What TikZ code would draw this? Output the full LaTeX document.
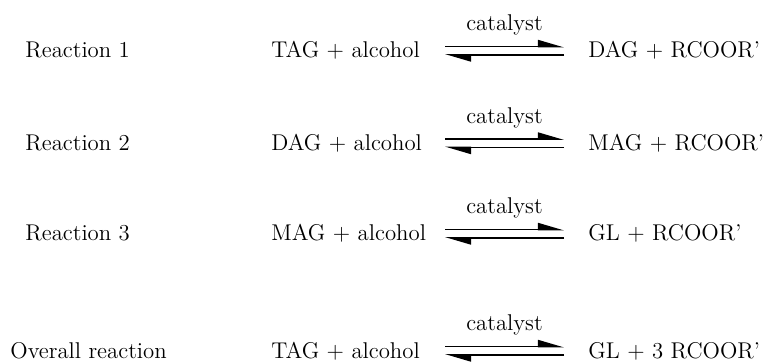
\documentclass[tikz,border=0pt]{standalone}
\usepackage{tikz}
\usetikzlibrary{arrows.meta}
\tikzstyle{txt}=[anchor=base west,inner sep=0pt,font=\fontsize{11.4}{14}\selectfont]
\tikzstyle{cat}=[anchor=base,inner sep=0pt,font=\fontsize{11.4}{14}\selectfont]
\tikzstyle{harp}=[line width=0.85pt,-{Triangle[harpoon,length=11.5pt,width=6.5pt]}]

\begin{document}
\begin{tikzpicture}[x=0.5pt,y=-0.5pt]
\useasboundingbox (0,0) rectangle (768,364);
\begin{scope}[shift={(0,58)}] %reaction 1
	\node[txt] (L) at (25,0) {Reaction 1};
	\node[txt] (A) at (271,0) {TAG + alcohol};
	\node[txt] (B) at (588,0) {DAG + RCOOR’};
	\coordinate (C) at (445,-11.5);
	\coordinate (D) at (564,-11.5);
	\coordinate (E) at (564,-3);
	\coordinate (F) at (445,-3);
	\draw[harp] (C)--(D);
	\draw[harp] (E)--(F);
	\node[cat] (K) at (504.5,-27.5) {catalyst};
\end{scope}
\begin{scope}[shift={(0,150.5)}] %reaction 2
	\node[txt] (L) at (25,0) {Reaction 2};
	\node[txt] (A) at (271,0) {DAG + alcohol};
	\node[txt] (B) at (588,0) {MAG + RCOOR’};
	\coordinate (C) at (445,-11.5);
	\coordinate (D) at (564,-11.5);
	\coordinate (E) at (564,-3);
	\coordinate (F) at (445,-3);
	\draw[harp] (C)--(D);
	\draw[harp] (E)--(F);
	\node[cat] (K) at (504.5,-27.5) {catalyst};
\end{scope}
\begin{scope}[shift={(0,241)}] %reaction 3
	\node[txt] (L) at (25,0) {Reaction 3};
	\node[txt] (A) at (271,0) {MAG + alcohol};
	\node[txt] (B) at (588,0) {GL + RCOOR’};
	\coordinate (C) at (445,-11.5);
	\coordinate (D) at (564,-11.5);
	\coordinate (E) at (564,-3);
	\coordinate (F) at (445,-3);
	\draw[harp] (C)--(D);
	\draw[harp] (E)--(F);
	\node[cat] (K) at (504.5,-27.5) {catalyst};
\end{scope}
\begin{scope}[shift={(0,358)}] %bilan
	\node[txt] (L) at (10,0) {Overall reaction};
	\node[txt] (A) at (271,0) {TAG + alcohol};
	\node[txt] (B) at (588,0) {GL + 3 RCOOR’};
	\coordinate (C) at (445,-11.5);
	\coordinate (D) at (564,-11.5);
	\coordinate (E) at (564,-3);
	\coordinate (F) at (445,-3);
	\draw[harp] (C)--(D);
	\draw[harp] (E)--(F);
	\node[cat] (K) at (504.5,-27.5) {catalyst};
\end{scope}
\end{tikzpicture}
\end{document}
